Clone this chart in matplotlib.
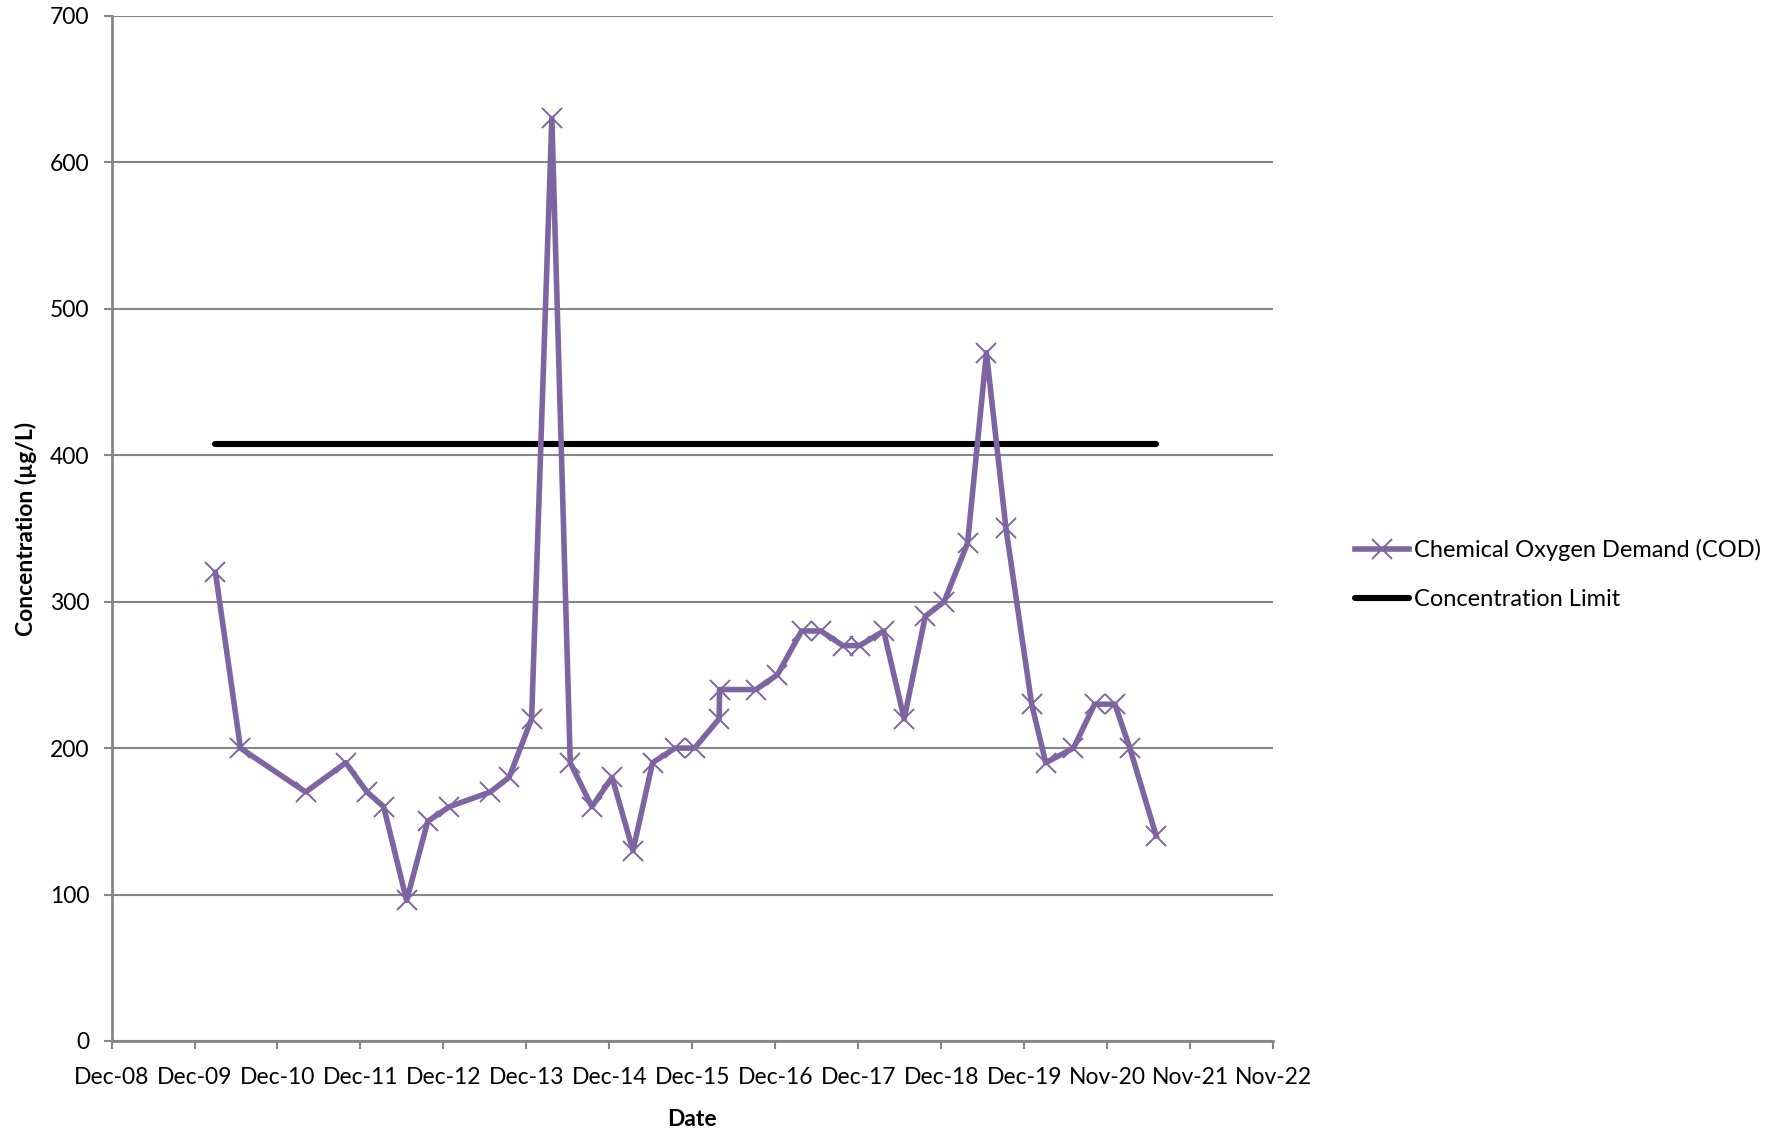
import datetime as dt
import matplotlib
matplotlib.use("Agg")
import matplotlib.pyplot as plt
import matplotlib.dates as mdates

# sample dates and COD values
dates = ["2010-03-05", "2010-06-23", "2011-04-06", "2011-09-29", "2012-01-01",
         "2012-03-14", "2012-06-23", "2012-09-24", "2012-12-28", "2013-06-26",
         "2013-09-17", "2013-12-25", "2014-03-24", "2014-06-13", "2014-09-16",
         "2014-12-14", "2015-03-16", "2015-06-10", "2015-09-17", "2015-12-12",
         "2016-03-29", "2016-03-31", "2016-09-07", "2016-12-10", "2017-03-27",
         "2017-06-20", "2017-09-24", "2017-12-07", "2018-03-23", "2018-06-21",
         "2018-09-22", "2018-12-14", "2019-03-27", "2019-06-18", "2019-09-12",
         "2020-01-03", "2020-03-05", "2020-07-05", "2020-10-06", "2021-01-03",
         "2021-03-10", "2021-07-04"]
cod = [320, 200, 170, 190, 170, 160, 96, 150, 160, 170,
       180, 220, 630, 190, 160, 180, 130, 190, 200, 200,
       220, 240, 240, 250, 280, 280, 270, 270, 280, 220,
       290, 300, 340, 470, 350, 230, 190, 200, 230, 230,
       200, 140]
limit = 408

dates = [dt.datetime.strptime(d, "%Y-%m-%d") for d in dates]

axis_start = dt.datetime(2008, 12, 3)
tick_dates = [axis_start + dt.timedelta(days=365 * k) for k in range(15)]

plt.rcParams['font.family'] = ['Lato', 'DejaVu Sans']
grey = '#868686'
purple = '#7F64A2'

fig = plt.figure(figsize=(17.88, 11.31), dpi=100)
ax = fig.add_axes([0.0624, 0.0796, 0.6496, 0.9063])

ax.plot(dates, cod, color=purple, lw=4.0, marker='x', markersize=14,
        markeredgewidth=1.4, label='Chemical Oxygen Demand (COD)', zorder=3)
ax.plot([dates[0], dates[-1]], [limit, limit], color='black', lw=4.4,
        solid_capstyle='round', label='Concentration Limit', zorder=2)

ax.set_ylim(0, 700)
ax.set_yticks(range(0, 701, 100))
ax.set_xlim(tick_dates[0], tick_dates[-1])
ax.set_xticks(tick_dates)
ax.xaxis.set_major_formatter(mdates.DateFormatter('%b-%y'))

ax.yaxis.grid(True, color=grey, lw=1.5)
ax.set_axisbelow(True)
for side in ['top', 'right']:
    ax.spines[side].set_visible(False)
for side in ['left', 'bottom']:
    ax.spines[side].set_color(grey)
    ax.spines[side].set_linewidth(2)
ax.tick_params(axis='both', colors=grey, labelcolor='black', labelsize=16.5,
               direction='out', length=6, width=1.5)
ax.tick_params(axis='x', pad=13)
ax.tick_params(axis='y', pad=10)

ax.set_xlabel('Date', fontsize=16.5, fontweight='bold', labelpad=15)
ax.set_ylabel('Concentration (µg/L)', fontsize=16.5, fontweight='bold', labelpad=9)

ax.legend(loc='center left', bbox_to_anchor=(1.052, 0.455), frameon=False,
          fontsize=17, handlelength=2.3, handletextpad=0.2, labelspacing=1.2)

fig.savefig('out.png', dpi=100)
